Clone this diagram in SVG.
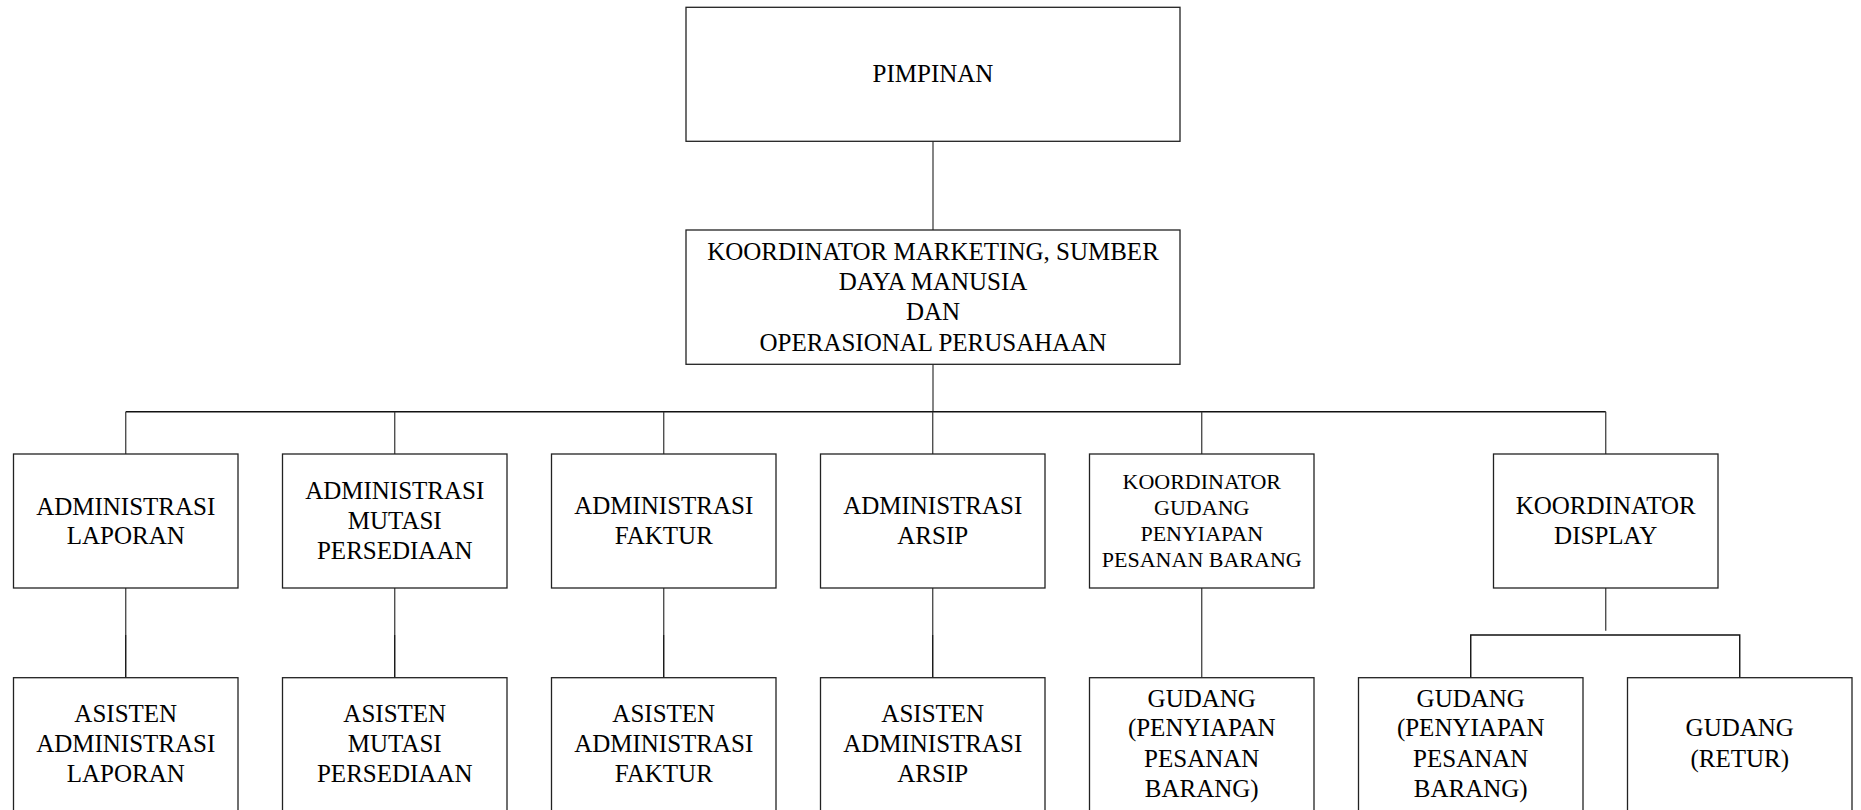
<svg xmlns="http://www.w3.org/2000/svg" width="1861" height="810" viewBox="0 0 1861 810">
<style>
.box{fill:#fff;stroke:#222;stroke-width:1.3}
.ln{stroke:#333;stroke-width:1.2;fill:none}
.dk{stroke:#111;stroke-width:1.4;fill:none}
text{font-family:"Liberation Serif","Times New Roman",serif;font-size:25px;fill:#000;text-anchor:middle}
.sm{font-size:22px}
</style>
<rect width="1861" height="810" fill="#fff"/>
<g id="connectors">
<line class="ln" x1="933" y1="141.3" x2="933" y2="230"/>
<line class="ln" x1="933" y1="364.3" x2="933" y2="411.7"/>
<line class="dk" x1="125.75" y1="411.7" x2="1605.75" y2="411.7"/>
<line class="ln" x1="125.75" y1="411.7" x2="125.75" y2="454"/>
<line class="ln" x1="394.75" y1="411.7" x2="394.75" y2="454"/>
<line class="ln" x1="663.75" y1="411.7" x2="663.75" y2="454"/>
<line class="ln" x1="932.75" y1="411.7" x2="932.75" y2="454"/>
<line class="ln" x1="1201.75" y1="411.7" x2="1201.75" y2="454"/>
<line class="ln" x1="1605.75" y1="411.7" x2="1605.75" y2="454"/>
<line class="ln" x1="125.75" y1="588" x2="125.75" y2="635"/>
<line class="dk" x1="125.75" y1="635" x2="125.75" y2="677.7"/>
<line class="ln" x1="394.75" y1="588" x2="394.75" y2="635"/>
<line class="dk" x1="394.75" y1="635" x2="394.75" y2="677.7"/>
<line class="ln" x1="663.75" y1="588" x2="663.75" y2="635"/>
<line class="dk" x1="663.75" y1="635" x2="663.75" y2="677.7"/>
<line class="ln" x1="932.75" y1="588" x2="932.75" y2="635"/>
<line class="dk" x1="932.75" y1="635" x2="932.75" y2="677.7"/>
<line class="ln" x1="1201.75" y1="588" x2="1201.75" y2="677.7"/>
<line class="ln" x1="1605.75" y1="588" x2="1605.75" y2="630.7"/>
<polyline class="dk" points="1470.75,677.7 1470.75,635 1739.75,635 1739.75,677.7"/>
</g>
<g id="pimpinan">
<rect class="box" x="686" y="7.3" width="494" height="134"/>
<text x="933" y="82">PIMPINAN</text>
</g>
<g id="koordinator-marketing">
<rect class="box" x="686" y="230" width="494" height="134.3"/>
<text x="933" y="260">KOORDINATOR MARKETING, SUMBER</text>
<text x="933" y="290">DAYA MANUSIA</text>
<text x="933" y="320">DAN</text>
<text x="933" y="350.5">OPERASIONAL PERUSAHAAN</text>
</g>
<g id="administrasi-laporan">
<rect class="box" x="13.5" y="454" width="224.5" height="134"/>
<text x="125.75" y="514.5">ADMINISTRASI</text>
<text x="125.75" y="544">LAPORAN</text>
</g>
<g id="administrasi-mutasi">
<rect class="box" x="282.5" y="454" width="224.5" height="134"/>
<text x="394.75" y="499.3">ADMINISTRASI</text>
<text x="394.75" y="529.3">MUTASI</text>
<text x="394.75" y="558.5">PERSEDIAAN</text>
</g>
<g id="administrasi-faktur">
<rect class="box" x="551.5" y="454" width="224.5" height="134"/>
<text x="663.75" y="514">ADMINISTRASI</text>
<text x="663.75" y="543.5">FAKTUR</text>
</g>
<g id="administrasi-arsip">
<rect class="box" x="820.5" y="454" width="224.5" height="134"/>
<text x="932.75" y="514">ADMINISTRASI</text>
<text x="932.75" y="543.5">ARSIP</text>
</g>
<g id="koordinator-gudang">
<rect class="box" x="1089.5" y="454" width="224.5" height="134"/>
<text class="sm" x="1201.75" y="488.5">KOORDINATOR</text>
<text class="sm" x="1201.75" y="515">GUDANG</text>
<text class="sm" x="1201.75" y="541">PENYIAPAN</text>
<text class="sm" x="1201.75" y="567">PESANAN BARANG</text>
</g>
<g id="koordinator-display">
<rect class="box" x="1493.5" y="454" width="224.5" height="134"/>
<text x="1605.75" y="514">KOORDINATOR</text>
<text x="1605.75" y="543.5">DISPLAY</text>
</g>
<g id="asisten-laporan">
<rect class="box" x="13.5" y="677.7" width="224.5" height="134"/>
<text x="125.75" y="721.7">ASISTEN</text>
<text x="125.75" y="751.5">ADMINISTRASI</text>
<text x="125.75" y="782">LAPORAN</text>
</g>
<g id="asisten-mutasi">
<rect class="box" x="282.5" y="677.7" width="224.5" height="134"/>
<text x="394.75" y="721.7">ASISTEN</text>
<text x="394.75" y="751.5">MUTASI</text>
<text x="394.75" y="782">PERSEDIAAN</text>
</g>
<g id="asisten-faktur">
<rect class="box" x="551.5" y="677.7" width="224.5" height="134"/>
<text x="663.75" y="721.7">ASISTEN</text>
<text x="663.75" y="751.5">ADMINISTRASI</text>
<text x="663.75" y="782">FAKTUR</text>
</g>
<g id="asisten-arsip">
<rect class="box" x="820.5" y="677.7" width="224.5" height="134"/>
<text x="932.75" y="721.7">ASISTEN</text>
<text x="932.75" y="751.5">ADMINISTRASI</text>
<text x="932.75" y="782">ARSIP</text>
</g>
<g id="gudang-penyiapan-1">
<rect class="box" x="1089.5" y="677.7" width="224.5" height="134"/>
<text x="1201.75" y="706.7">GUDANG</text>
<text x="1201.75" y="736">(PENYIAPAN</text>
<text x="1201.75" y="766.7">PESANAN</text>
<text x="1201.75" y="796.7">BARANG)</text>
</g>
<g id="gudang-penyiapan-2">
<rect class="box" x="1358.5" y="677.7" width="224.5" height="134"/>
<text x="1470.75" y="706.7">GUDANG</text>
<text x="1470.75" y="736">(PENYIAPAN</text>
<text x="1470.75" y="766.7">PESANAN</text>
<text x="1470.75" y="796.7">BARANG)</text>
</g>
<g id="gudang-retur">
<rect class="box" x="1627.5" y="677.7" width="224.5" height="134"/>
<text x="1739.75" y="736">GUDANG</text>
<text x="1739.75" y="766.7">(RETUR)</text>
</g>
</svg>
